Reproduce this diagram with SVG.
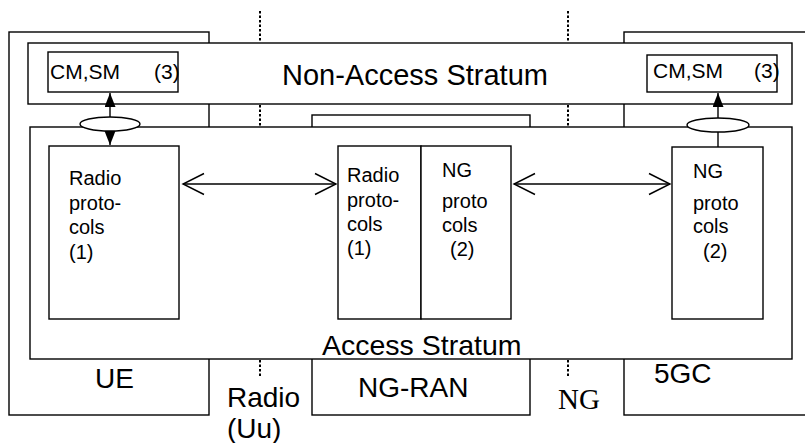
<svg xmlns="http://www.w3.org/2000/svg" width="805" height="443" viewBox="0 0 805 443">
<style>
.b{fill:#fff;stroke:#000;stroke-width:1.4}
.t{font-family:"Liberation Sans",Arial,sans-serif;fill:#000}
.big{font-size:28px}
.cm{font-size:21px}
.p{font-size:20px}
.dot{stroke:#000;stroke-width:2;stroke-dasharray:2.5,2;fill:none}
.ln{stroke:#000;stroke-width:1.4;fill:none}
</style>
<defs>
<marker id="fa" markerUnits="userSpaceOnUse" markerWidth="16" markerHeight="14" refX="14" refY="5.5" orient="auto-start-reverse">
<path d="M0,0 L14,5.5 L0,11 z" fill="#000"/>
</marker>
<marker id="oa" markerUnits="userSpaceOnUse" markerWidth="24" markerHeight="26" refX="22" refY="12" orient="auto-start-reverse">
<path d="M1,1.5 L22,12 L1,22.5" fill="none" stroke="#000" stroke-width="1.4"/>
</marker>
</defs>

<g id="ue"><rect class="b" x="9" y="32" width="200" height="383"/><text class="t big" x="95" y="388">UE</text></g>
<g id="ngran"><rect class="b" x="312" y="115" width="218" height="300"/><text class="t big" x="358" y="397">NG-RAN</text></g>
<g id="fivegc"><rect class="b" x="624" y="32" width="200" height="383"/><text class="t big" x="654" y="383">5GC</text></g>

<g id="nas"><rect class="b" x="28" y="43" width="764" height="61"/><text class="t" x="282" y="85" font-size="29">Non-Access Stratum</text></g>
<g id="as"><rect class="b" x="30" y="127" width="762" height="232"/><text class="t" x="322" y="355" font-size="28.5">Access Stratum</text></g>

<g id="boundaries">
<line class="dot" x1="260" y1="11" x2="260" y2="42"/>
<line class="dot" x1="260" y1="105" x2="260" y2="127"/>
<line class="dot" x1="260" y1="360" x2="260" y2="377"/>
<line class="dot" x1="568" y1="11" x2="568" y2="42"/>
<line class="dot" x1="568" y1="105" x2="568" y2="127"/>
<line class="dot" x1="568" y1="360" x2="568" y2="377"/>
</g>

<g id="cmsm-ue"><rect class="b" x="48" y="52" width="130" height="40"/><text class="t cm" x="50" y="79">CM,SM</text><text class="t cm" x="154" y="79">(3)</text></g>
<g id="cmsm-cn"><rect class="b" x="647" y="55" width="130" height="37"/><text class="t cm" x="653" y="78">CM,SM</text><text class="t cm" x="754" y="78">(3)</text></g>

<g id="radio-ue"><rect class="b" x="49" y="146" width="130" height="173"/>
<text class="t p"><tspan x="69" y="185">Radio</tspan><tspan x="69" y="210">proto-</tspan><tspan x="69" y="234">cols</tspan><tspan x="69" y="259">(1)</tspan></text></g>
<g id="radio-ran"><rect class="b" x="338" y="146" width="83" height="173"/>
<text class="t p"><tspan x="347" y="182">Radio</tspan><tspan x="347" y="207">proto-</tspan><tspan x="347" y="231">cols</tspan><tspan x="347" y="255">(1)</tspan></text></g>
<g id="ng-ran"><rect class="b" x="421" y="146" width="90" height="173"/>
<text class="t p"><tspan x="442" y="177">NG</tspan><tspan x="442" y="208">proto</tspan><tspan x="442" y="232">cols</tspan><tspan x="450" y="256">(2)</tspan></text></g>
<g id="ng-cn"><rect class="b" x="672" y="147" width="91" height="172"/>
<text class="t p"><tspan x="693" y="178">NG</tspan><tspan x="693" y="210">proto</tspan><tspan x="693" y="233">cols</tspan><tspan x="703" y="258">(2)</tspan></text></g>

<g id="connectors">
<line class="ln" x1="110" y1="93" x2="110" y2="145" marker-start="url(#fa)" marker-end="url(#fa)"/>
<ellipse class="b" cx="110" cy="124" rx="30" ry="7"/>
<line class="ln" x1="718" y1="147" x2="718" y2="93" marker-end="url(#fa)"/>
<ellipse class="b" cx="718" cy="125" rx="31" ry="7"/>
<line class="ln" x1="183" y1="184" x2="336" y2="184" marker-start="url(#oa)" marker-end="url(#oa)"/>
<line class="ln" x1="514" y1="184" x2="670" y2="184" marker-start="url(#oa)" marker-end="url(#oa)"/>
</g>

<g id="labels">
<text class="t big" x="227" y="407">Radio</text>
<text class="t big" x="227" y="438">(Uu)</text>
<text x="558" y="409" font-family="Liberation Serif,'Times New Roman',serif" font-size="29">NG</text>
</g>
</svg>
